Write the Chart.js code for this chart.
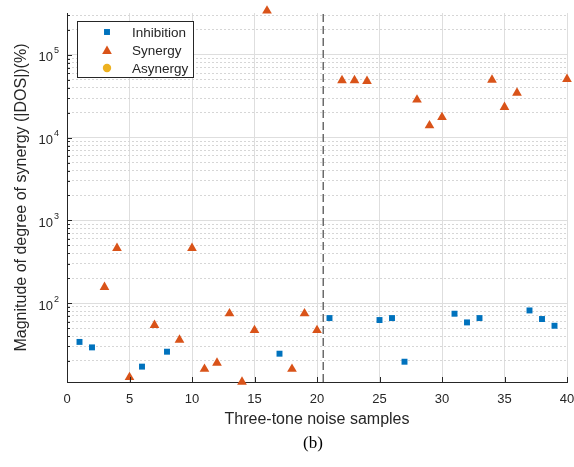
<!DOCTYPE html>
<html lang="en">
<head>
<meta charset="UTF-8">
<title>Magnitude of degree of synergy</title>
<style>
    body { margin: 0; background: #fff; }
    canvas { display: block; }
</style>
<script src="https://cdn.jsdelivr.net/npm/chart.js"></script>
</head>
<body>
<canvas id="dosChart" width="574" height="467"></canvas>
<script>
    // sample numbers and |DOS| (%)
    const inhibitionX = [1, 2, 6, 8, 17, 21, 25, 26, 27, 31, 32, 33, 37, 38, 39];
    const inhibitionY = [34, 29.2, 17.1, 25.9, 24.5, 66, 62.5, 66, 19.6, 74.5, 58.5, 66, 81.6, 64.3, 53.3];

    const synergyX = [3, 4, 5, 7, 9, 10, 11, 12, 13, 14, 15, 16, 18, 19, 20, 22, 23, 24, 28, 29, 30, 34, 35, 36, 40];
    const synergyY = [156, 462, 12.7, 54.2, 36, 462, 16, 19, 75, 11.2, 47, 340000, 16, 75, 47,
                      49000, 49000, 48000, 28600, 14000, 17600, 49800, 23300, 34700, 50800];

    const asynergyX = [];
    const asynergyY = [];

    const xTicks = [0, 5, 10, 15, 20, 25, 30, 35, 40];
    const yDecades = [2, 3, 4, 5];
    const yMin = 11.15;
    const yMax = 320000;
    const splitX = 20.5;   // dashed separator

    const textColor = '#262626';
    const sansFont = '"Liberation Sans", Arial, sans-serif';

    function toPoints(xs, ys) {
        return xs.map((x, i) => ({ x: x, y: ys[i] }));
    }

    function isDecade(v) {
        const l = Math.log10(v);
        return Math.abs(l - Math.round(l)) < 1e-9;
    }

    // minor + major ticks for the log axis (1..9 x 10^n inside the limits)
    function logTicks() {
        const ticks = [];
        for (let e = 1; e <= 5; e++) {
            for (let s = 1; s <= 9; s++) {
                const v = s * Math.pow(10, e);
                if (v > yMin && v < yMax) ticks.push({ value: v, major: s === 1 });
            }
        }
        return ticks;
    }

    const series = [
        { label: 'Inhibition', style: 'rect', radius: 4.2, color: '#0072BD' },
        { label: 'Synergy', style: 'triangle', radius: 5.6, color: '#D95319' },
        { label: 'Asynergy', style: 'circle', radius: 4.2, color: '#EDB120' }
    ];

    const figureText = {
        id: 'figureText',
        afterDraw(chart) {
            const ctx = chart.ctx;
            const area = chart.chartArea;
            const xs = chart.scales.x;
            const ys = chart.scales.y;
            ctx.save();

            // inward tick marks
            ctx.strokeStyle = textColor;
            ctx.lineWidth = 1;
            ctx.beginPath();
            xTicks.forEach(v => {
                const px = Math.round(xs.getPixelForValue(v)) + 0.5;
                ctx.moveTo(px, area.bottom);
                ctx.lineTo(px, area.bottom - 5);
            });
            ys.ticks.forEach(t => {
                const py = Math.round(ys.getPixelForValue(t.value)) + 0.5;
                ctx.moveTo(area.left, py);
                ctx.lineTo(area.left + (isDecade(t.value) ? 5 : 3), py);
            });
            ctx.stroke();

            // y tick labels 10^n
            ctx.fillStyle = textColor;
            ctx.textBaseline = 'middle';
            yDecades.forEach(e => {
                const py = ys.getPixelForValue(Math.pow(10, e));
                ctx.font = '9px ' + sansFont;
                const expW = ctx.measureText(String(e)).width;
                ctx.textAlign = 'left';
                ctx.fillText(String(e), 59 - expW, py - 4);
                ctx.font = '13px ' + sansFont;
                ctx.textAlign = 'right';
                ctx.fillText('10', 58 - expW, py + 3);
            });

            // axis titles
            ctx.font = '16px ' + sansFont;
            ctx.textAlign = 'center';
            ctx.textBaseline = 'alphabetic';
            ctx.fillText('Three-tone noise samples', (area.left + area.right) / 2, 424);

            ctx.save();
            ctx.translate(22, (area.top + area.bottom) / 2);
            ctx.rotate(-Math.PI / 2);
            ctx.textBaseline = 'middle';
            ctx.fillText('Magnitude of degree of synergy (|DOS|)(%)', 0, 0);
            ctx.restore();

            ctx.fillStyle = '#000';
            ctx.font = '17px "Liberation Serif", "Times New Roman", serif';
            ctx.textBaseline = 'middle';
            ctx.fillText('(b)', 313, 444);

            // legend box
            ctx.fillStyle = '#fff';
            ctx.fillRect(77, 21, 116, 56);
            ctx.strokeStyle = textColor;
            ctx.strokeRect(77.5, 21.5, 116, 56);
            ctx.font = '13.5px ' + sansFont;
            ctx.textAlign = 'left';
            series.forEach((s, i) => {
                const rowY = 32 + i * 18;
                ctx.fillStyle = s.color;
                Chart.helpers.drawPoint(ctx, {
                    pointStyle: s.style, radius: s.radius, rotation: 0, borderWidth: 0
                }, 107, rowY + (s.style === 'triangle' ? 1.2 : 0));
                ctx.fillStyle = textColor;
                ctx.fillText(s.label, 132, rowY + 1);
            });

            ctx.restore();
        }
    };

    const pointData = [toPoints(inhibitionX, inhibitionY), toPoints(synergyX, synergyY), toPoints(asynergyX, asynergyY)];

    const datasets = series.map((s, i) => ({
        label: s.label,
        data: pointData[i],
        pointStyle: s.style,
        pointRadius: s.radius,
        pointHoverRadius: s.radius,
        backgroundColor: s.color,
        borderColor: s.color,
        borderWidth: 0,
        showLine: false,
        clip: false
    }));

    datasets.push({
        label: 'split',
        type: 'line',
        data: [{ x: splitX, y: yMin }, { x: splitX, y: yMax }],
        borderColor: '#6b6b6b',
        borderWidth: 1.5,
        borderDash: [8, 4],
        pointRadius: 0,
        showLine: true,
        clip: false
    });

    new Chart(document.getElementById('dosChart'), {
        type: 'scatter',
        data: { datasets: datasets },
        options: {
            responsive: false,
            animation: false,
            devicePixelRatio: 1,
            layout: { padding: { left: 0, top: 13, right: 7, bottom: 0 } },
            plugins: {
                legend: { display: false },
                tooltip: { enabled: false },
                title: { display: false }
            },
            scales: {
                x: {
                    type: 'linear',
                    min: 0,
                    max: 40,
                    afterBuildTicks: scale => { scale.ticks = xTicks.map(v => ({ value: v })); },
                    afterFit: scale => {
                        scale.height = 85;
                        scale.paddingLeft = 0;
                        scale.paddingRight = 0;
                    },
                    grid: { color: '#dedede', drawTicks: false },
                    border: { color: textColor },
                    ticks: {
                        color: textColor,
                        padding: 10,
                        font: { family: sansFont, size: 13 },
                        maxRotation: 0
                    }
                },
                y: {
                    type: 'logarithmic',
                    min: yMin,
                    max: yMax,
                    afterBuildTicks: scale => { scale.ticks = logTicks(); },
                    afterFit: scale => {
                        scale.width = 67;
                        scale.paddingTop = 0;
                        scale.paddingBottom = 0;
                    },
                    grid: {
                        drawTicks: false,
                        color: c => (c.tick && isDecade(c.tick.value)) ? '#dedede' : '#d6d6d6'
                    },
                    border: {
                        color: textColor,
                        dash: c => (c.tick && !isDecade(c.tick.value)) ? [2, 2] : []
                    },
                    ticks: { display: false }
                }
            }
        },
        plugins: [figureText]
    });
</script>
</body>
</html>
